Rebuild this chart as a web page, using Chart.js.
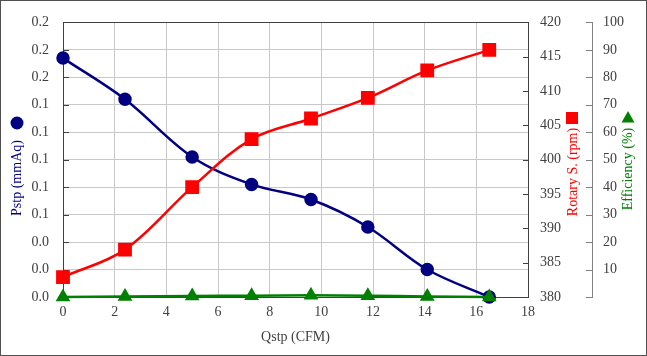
<!DOCTYPE html>
<html><head><meta charset="utf-8">
<script src="https://cdn.jsdelivr.net/npm/chart.js@4/dist/chart.umd.min.js"></script>
<style>html,body{margin:0;padding:0;background:#fff}#wrap{width:647px;height:356px}</style>
</head><body><div id="wrap"><canvas id="c" width="647" height="356"></canvas></div>
<script>
// ---- data ----
const flow = [0.0, 2.4, 5.0, 7.3, 9.6, 11.8, 14.1, 16.5];          // Qstp (CFM)
const pstp = [0.174, 0.144, 0.102, 0.082, 0.071, 0.051, 0.020, 0.000]; // mmAq
const rotary = [382.9, 386.9, 396.0, 403.0, 406.0, 409.0, 413.0, 416.0]; // rpm
const efficiency = [0.0, 0.2, 0.4, 0.5, 0.6, 0.5, 0.2, 0.0];        // %
const xTitle = 'Qstp (CFM)';
const yTitle = 'Pstp (mmAq)';
const y1Title = 'Rotary S. (rpm)';
const y2Title = 'Efficiency (%)';

const FONT = 'Liberation Serif, Times New Roman, serif';
const NAVY = '#000080', RED = '#ff0000', GREEN = '#008000';
const TXT = '#404040', GRID = '#c8c8c8', AXIS = '#404040';

const pts = (ys) => flow.map((x, i) => ({x, y: ys[i]}));

const decor = {
  id: 'decor',
  beforeDatasetsDraw(chart) {
    const {ctx, chartArea: a, scales} = chart;
    ctx.save();
    ctx.strokeStyle = AXIS; ctx.lineWidth = 1;
    ctx.strokeRect(Math.round(a.left) + 0.5, Math.round(a.top) + 0.5,
      Math.round(a.right - a.left), Math.round(a.bottom - a.top));
    ctx.beginPath();
    scales.y.ticks.forEach(t => {
      const p = Math.round(scales.y.getPixelForValue(t.value)) + 0.5;
      ctx.moveTo(a.left, p); ctx.lineTo(a.left + 6, p);
    });
    scales.y1.ticks.forEach(t => {
      const p = Math.round(scales.y1.getPixelForValue(t.value)) + 0.5;
      ctx.moveTo(a.right, p); ctx.lineTo(a.right - 5, p);
    });
    ctx.stroke();
    const s2 = scales.y2;
    ctx.strokeStyle = '#808080';
    ctx.beginPath();
    s2.ticks.forEach(t => {
      const p = Math.round(s2.getPixelForValue(t.value)) + 0.5;
      ctx.moveTo(s2.left - 6, p); ctx.lineTo(s2.left + 0.5, p);
    });
    ctx.stroke();
    ctx.restore();
  },
  afterDraw(chart) {
    const {ctx, chartArea: a} = chart;
    ctx.save();
    ctx.font = '14px ' + FONT;
    ctx.textAlign = 'center'; ctx.textBaseline = 'middle';
    ctx.fillStyle = TXT;
    ctx.fillText(xTitle, (a.left + a.right) / 2, 337);
    const rot = (text, x, y, color) => {
      ctx.save(); ctx.translate(x, y); ctx.rotate(-Math.PI / 2);
      ctx.fillStyle = color; ctx.fillText(text, 0, 0); ctx.restore();
    };
    rot(yTitle, 17, 178, NAVY);
    ctx.fillStyle = NAVY;
    ctx.beginPath(); ctx.arc(17, 123, 6.5, 0, Math.PI * 2); ctx.fill();
    rot(y1Title, 573, 172, RED);
    ctx.fillStyle = RED;
    ctx.fillRect(566, 112, 12, 12);
    rot(y2Title, 628, 169, GREEN);
    ctx.fillStyle = GREEN;
    ctx.beginPath(); ctx.moveTo(628, 111); ctx.lineTo(634.5, 122.5); ctx.lineTo(621.5, 122.5); ctx.closePath(); ctx.fill();
    ctx.strokeStyle = '#505050'; ctx.lineWidth = 1;
    ctx.strokeRect(0.5, 0.5, 646, 355);
    ctx.restore();
  }
};

new Chart(document.getElementById('c'), {
  type: 'line',
  data: {
    datasets: [
      { label: y2Title, data: pts(efficiency), yAxisID: 'y2', order: 0,
        borderColor: GREEN, backgroundColor: GREEN, borderWidth: 2.5,
        pointStyle: 'triangle', pointRadius: 6, tension: 0.35, clip: false },
      { label: y1Title, data: pts(rotary), yAxisID: 'y1', order: 1,
        borderColor: RED, backgroundColor: RED, borderWidth: 2.5,
        pointStyle: 'rect', pointRadius: 8, tension: 0.35, clip: false },
      { label: yTitle, data: pts(pstp), yAxisID: 'y', order: 2,
        borderColor: NAVY, backgroundColor: NAVY, borderWidth: 2.5,
        pointStyle: 'circle', pointRadius: 5.5, tension: 0.35, clip: false }
    ]
  },
  options: {
    responsive: false, animation: false, devicePixelRatio: 1,
    layout: { padding: { top: 19, left: 0, right: 0, bottom: 0 } },
    plugins: { legend: { display: false }, tooltip: { enabled: false } },
    elements: { point: { borderWidth: 0, hoverRadius: 0 } },
    scales: {
      x: { type: 'linear', position: 'bottom', min: 0, max: 18,
        ticks: { stepSize: 2, color: TXT, font: { family: FONT, size: 14 }, padding: 7, maxRotation: 0 },
        grid: { color: GRID, drawTicks: false }, border: { display: false },
        afterFit(s) { s.height = 59; } },
      y: { type: 'linear', position: 'left', min: 0, max: 0.2,
        ticks: { stepSize: 0.02, color: TXT, font: { family: FONT, size: 14 }, padding: 14,
          callback: v => v.toFixed(1) },
        grid: { color: GRID, drawTicks: false }, border: { display: false },
        afterFit(s) { s.width = 63; } },
      y1: { type: 'linear', position: 'right', min: 380, max: 420, weight: 0,
        ticks: { stepSize: 5, color: TXT, font: { family: FONT, size: 14 }, padding: 12 },
        grid: { drawOnChartArea: false, drawTicks: false }, border: { display: false },
        afterFit(s) { s.width = 64; } },
      y2: { type: 'linear', position: 'right', min: 0, max: 100, weight: 1,
        ticks: { stepSize: 10, color: TXT, font: { family: FONT, size: 14 }, padding: 11,
          callback: v => v === 0 ? '' : v },
        grid: { drawOnChartArea: false, drawTicks: false }, border: { display: true, color: '#808080' },
        afterFit(s) { s.width = 55; } }
    }
  },
  plugins: [decor]
});
</script></body></html>
